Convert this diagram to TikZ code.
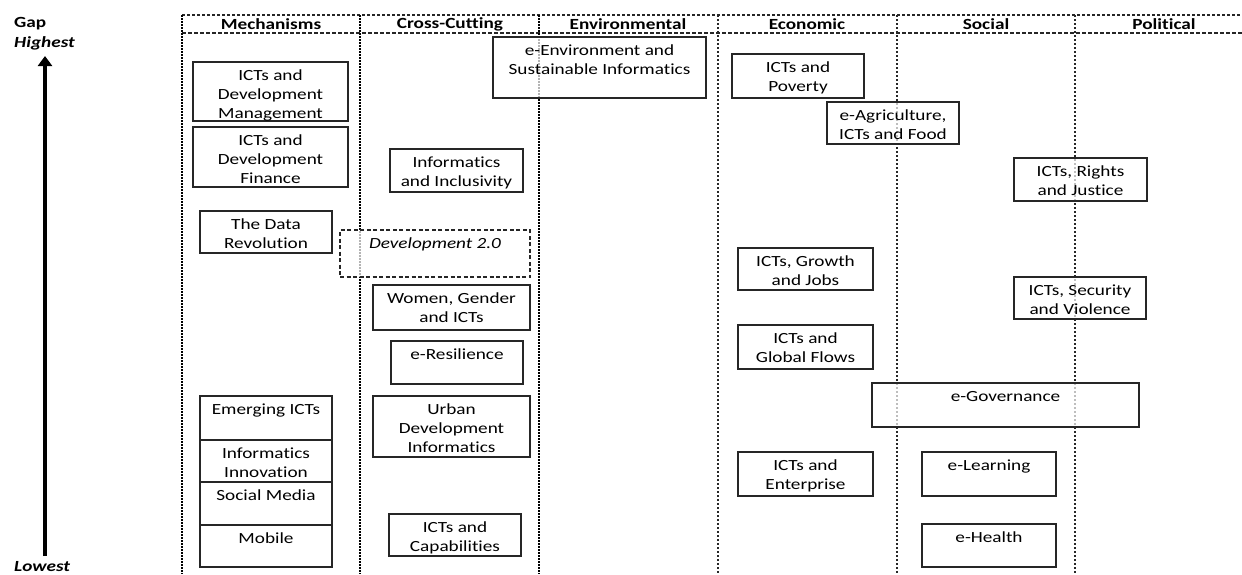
\documentclass[tikz,border=0pt]{standalone}
\usepackage{fontspec}
\setmainfont{Carlito}[FakeStretch=1.24, RawFeature={-liga}]
\usetikzlibrary{arrows.meta}
\tikzset{
  box/.style={draw=black!85, line width=1.4pt, fill=white, fill opacity=0.7, outer sep=0pt, inner sep=0pt},
  dbox/.style={box, dash pattern=on 4pt off 2.5pt},
  txt/.style={align=center, inner sep=0pt, font=\fontsize{15.5}{19}\selectfont, text=black},
  hdr/.style={inner sep=0pt, font=\bfseries\fontsize{15.5}{19}\selectfont, text=black},
  heavy/.style={line width=2.8pt, dash pattern=on 1.8pt off 1.2pt, draw=black},
  light/.style={line width=1.3pt, dash pattern=on 2pt off 2pt, draw=black!85},
  hline/.style={line width=1.2pt, dash pattern=on 3pt off 2pt, draw=black!85},
}
\newcommand\tbx[7][box]{%
  \node[#1, minimum width={#5-#3}, minimum height={#6-#4}, anchor=north west] (#2) at (#3,#4) {};
  \node[txt, anchor=north] (#2t) at ([yshift=-8pt]#2.north) {#7};
}
\begin{document}
\begin{tikzpicture}[x=1pt, y=-1pt]
\useasboundingbox (0,0) rectangle (1242,574);
% frame
\coordinate (tl) at (182,15);
\coordinate (tr) at (1242,15);
\coordinate (hl) at (182,33);
\coordinate (hr) at (1242,33);
\draw[hline] (tl) -- (tr);
\draw[hline, dash pattern=on 4pt off 2pt] (hl) -- (hr);
\foreach \x in {182,360,539} \draw[heavy] (\x,15) -- (\x,574);
\foreach \x in {718,897,1075} \draw[light] (\x,15) -- (\x,574);
% headers
\node[hdr] (hMech) at (271,24) {Mechanisms};
\node[hdr] (hCross) at (450,24) {Cross-Cutting};
\node[hdr] (hEnv) at (628,24) {Environmental};
\node[hdr] (hEcon) at (807,24) {Economic};
\node[hdr] (hSoc) at (986,24) {Social};
\node[hdr] (hPol) at (1164,24) {Political};
% left axis
\node[hdr, anchor=west] (gap) at (14,24) {Gap};
\node[hdr, anchor=west, font=\bfseries\itshape\fontsize{15.5}{19}\selectfont] (high) at (14,43) {Highest};
\node[hdr, anchor=west, font=\bfseries\itshape\fontsize{15.5}{19}\selectfont] (low) at (14,567) {Lowest};
\coordinate (aBot) at (45,556);
\coordinate (aTop) at (45,56);
\draw[line width=3.5pt, draw=black, -{Triangle[length=10pt, width=14pt]}] (aBot) -- (aTop);
% boxes
\tbx{mgmt}{193}{62}{348}{121}{ICTs and\\Development\\Management}
\tbx{fin}{193}{127}{348}{187}{ICTs and\\Development\\Finance}
\tbx{data}{200}{211}{332}{253}{The Data\\Revolution}
\tbx[dbox]{dev}{340}{230}{530}{277}{\itshape Development 2.0}
\tbx{incl}{390}{149}{523}{192}{Informatics\\and Inclusivity}
\tbx{env}{493}{37}{706}{98}{e-Environment and\\Sustainable Informatics}
\tbx{pov}{732}{54}{864}{98}{ICTs and\\Poverty}
\tbx{agri}{827}{102}{959}{144}{e-Agriculture,\\ICTs and Food}
\tbx{rights}{1014}{158}{1147}{201}{ICTs, Rights\\and Justice}
\tbx{women}{373}{285}{530}{330}{Women, Gender\\and ICTs}
\tbx{resil}{391}{341}{523}{384}{e-Resilience}
\tbx{urban}{373}{396}{530}{457}{Urban\\Development\\Informatics}
\tbx{capab}{389}{514}{521}{556}{ICTs and\\Capabilities}
\tbx{emerg}{200}{396}{332}{440}{Emerging ICTs}
\tbx{innov}{200}{440}{332}{482}{Informatics\\Innovation}
\tbx{social}{200}{482}{332}{525}{Social Media}
\tbx{mobile}{200}{525}{332}{567}{Mobile}
\tbx{growth}{738}{248}{873}{290}{ICTs, Growth\\and Jobs}
\tbx{flows}{738}{325}{873}{369}{ICTs and\\Global Flows}
\tbx{secur}{1014}{277}{1146}{319}{ICTs, Security\\and Violence}
\tbx{gov}{872}{383}{1139}{427}{e-Governance}
\tbx{enter}{738}{452}{873}{496}{ICTs and\\Enterprise}
\tbx{learn}{922}{452}{1056}{496}{e-Learning}
\tbx{health}{922}{524}{1056}{567}{e-Health}
\end{tikzpicture}
\end{document}
